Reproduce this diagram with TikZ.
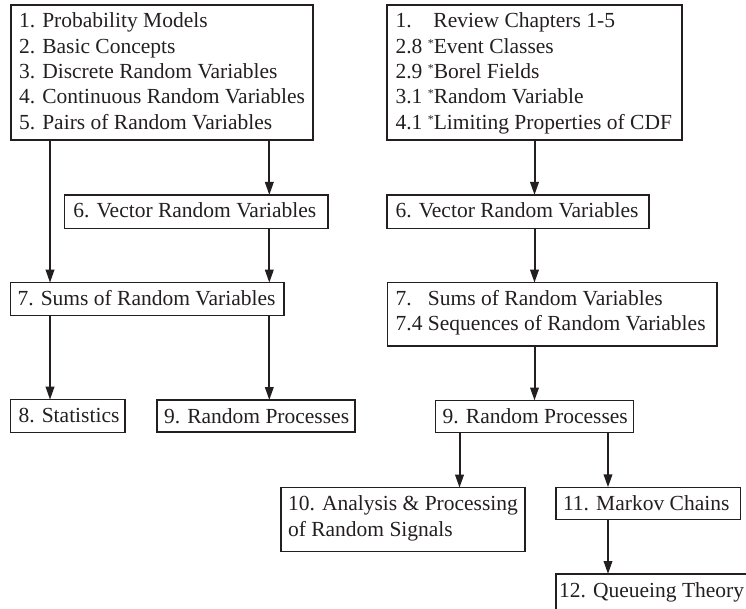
\documentclass[tikz,border=0pt]{standalone}
\usepackage{fontspec}
\setmainfont{Liberation Serif}
\usetikzlibrary{arrows.meta}
\definecolor{ink}{RGB}{35,31,32}
\newcommand{\bxtext}[4][8pt]{\parbox[c][#3][t]{#2}{\fontsize{21.5}{25.3}\selectfont\raggedright\leftskip=#1\relax\rule{0pt}{23pt}#4}}
\newcommand{\sstar}{\raisebox{6pt}{\fontsize{12}{12}\selectfont *}}
\begin{document}
\begin{tikzpicture}[x=1pt,y=-1pt,
  boxnode/.style={draw=ink,line width=1.2pt,inner sep=0pt,outer sep=0pt,anchor=north west,text=ink},
  arr/.style={draw=ink,line width=2pt,-{Triangle[length=13pt,width=8.5pt]}}]
\useasboundingbox (0,0) rectangle (746,609);
\clip (0,0) rectangle (746,609);
% left column
\node[boxnode] (A) at (11,5) {\bxtext{302pt}{135pt}{1. Probability Models\\2. Basic Concepts\\3. Discrete Random Variables\\4. Continuous Random Variables\\5. Pairs of Random Variables}};
\node[boxnode] (V1) at (64.3,195) {\bxtext[9pt]{263.7pt}{33.3pt}{6. Vector Random Variables}};
\node[boxnode] (S1) at (10.5,282.7) {\bxtext[7pt]{273.5pt}{32.6pt}{7. Sums of Random Variables}};
\node[boxnode] (ST) at (10.5,399.7) {\bxtext{114.5pt}{32.6pt}{8. Statistics}};
\node[boxnode] (RP1) at (157,400) {\bxtext[7pt]{198pt}{32pt}{9. Random Processes}};
% right column
\node[boxnode] (B) at (387,5) {\bxtext[8.5pt]{295pt}{135pt}{\makebox[38pt][l]{1.}Review Chapters 1-5\\2.8 \sstar Event Classes\\2.9 \sstar Borel Fields\\3.1 \sstar Random Variable\\4.1 \sstar Limiting Properties of CDF}};
\node[boxnode] (V2) at (387,195) {\bxtext[8.5pt]{262pt}{33.3pt}{6. Vector Random Variables}};
\node[boxnode] (S2) at (387.7,282.7) {\bxtext[8pt]{329.3pt}{63.3pt}{\rlap{7.}\phantom{7.4} Sums of Random Variables\\7.4 Sequences of Random Variables}};
\node[boxnode] (RP2) at (435.7,400.5) {\bxtext[7pt]{197.6pt}{32pt}{9. Random Processes}};
\node[boxnode] (P10) at (281,487.7) {\bxtext[7pt]{244pt}{64pt}{10. Analysis \& Processing\\of Random Signals}};
\node[boxnode] (M11) at (556,487.3) {\bxtext[7pt]{184.7pt}{32pt}{11. Markov Chains}};
\node[boxnode] (Q12) at (556,574) {\bxtext[3pt]{200pt}{50pt}{12. Queueing Theory}};
% connector columns
\coordinate (xa) at (50,0);
\coordinate (xb) at (269.3,0);
\coordinate (xc) at (534.5,0);
\coordinate (xd) at (459.5,0);
\coordinate (xe) at (608,0);
% connectors
\draw[arr] (A.south -| xa) -- (S1.north -| xa);
\draw[arr] (A.south -| xb) -- (V1.north -| xb);
\draw[arr] (V1.south -| xb) -- (S1.north -| xb);
\draw[arr] (S1.south -| xa) -- (ST.north -| xa);
\draw[arr] (S1.south -| xb) -- (RP1.north -| xb);
\draw[arr] (B.south -| xc) -- (V2.north -| xc);
\draw[arr] (V2.south -| xc) -- (S2.north -| xc);
\draw[arr] (S2.south -| xc) -- (RP2.north -| xc);
\draw[arr] (RP2.south -| xd) -- (P10.north -| xd);
\draw[arr] (RP2.south -| xe) -- (M11.north -| xe);
\draw[arr] (M11.south -| xe) -- (Q12.north -| xe);
\end{tikzpicture}
\end{document}
